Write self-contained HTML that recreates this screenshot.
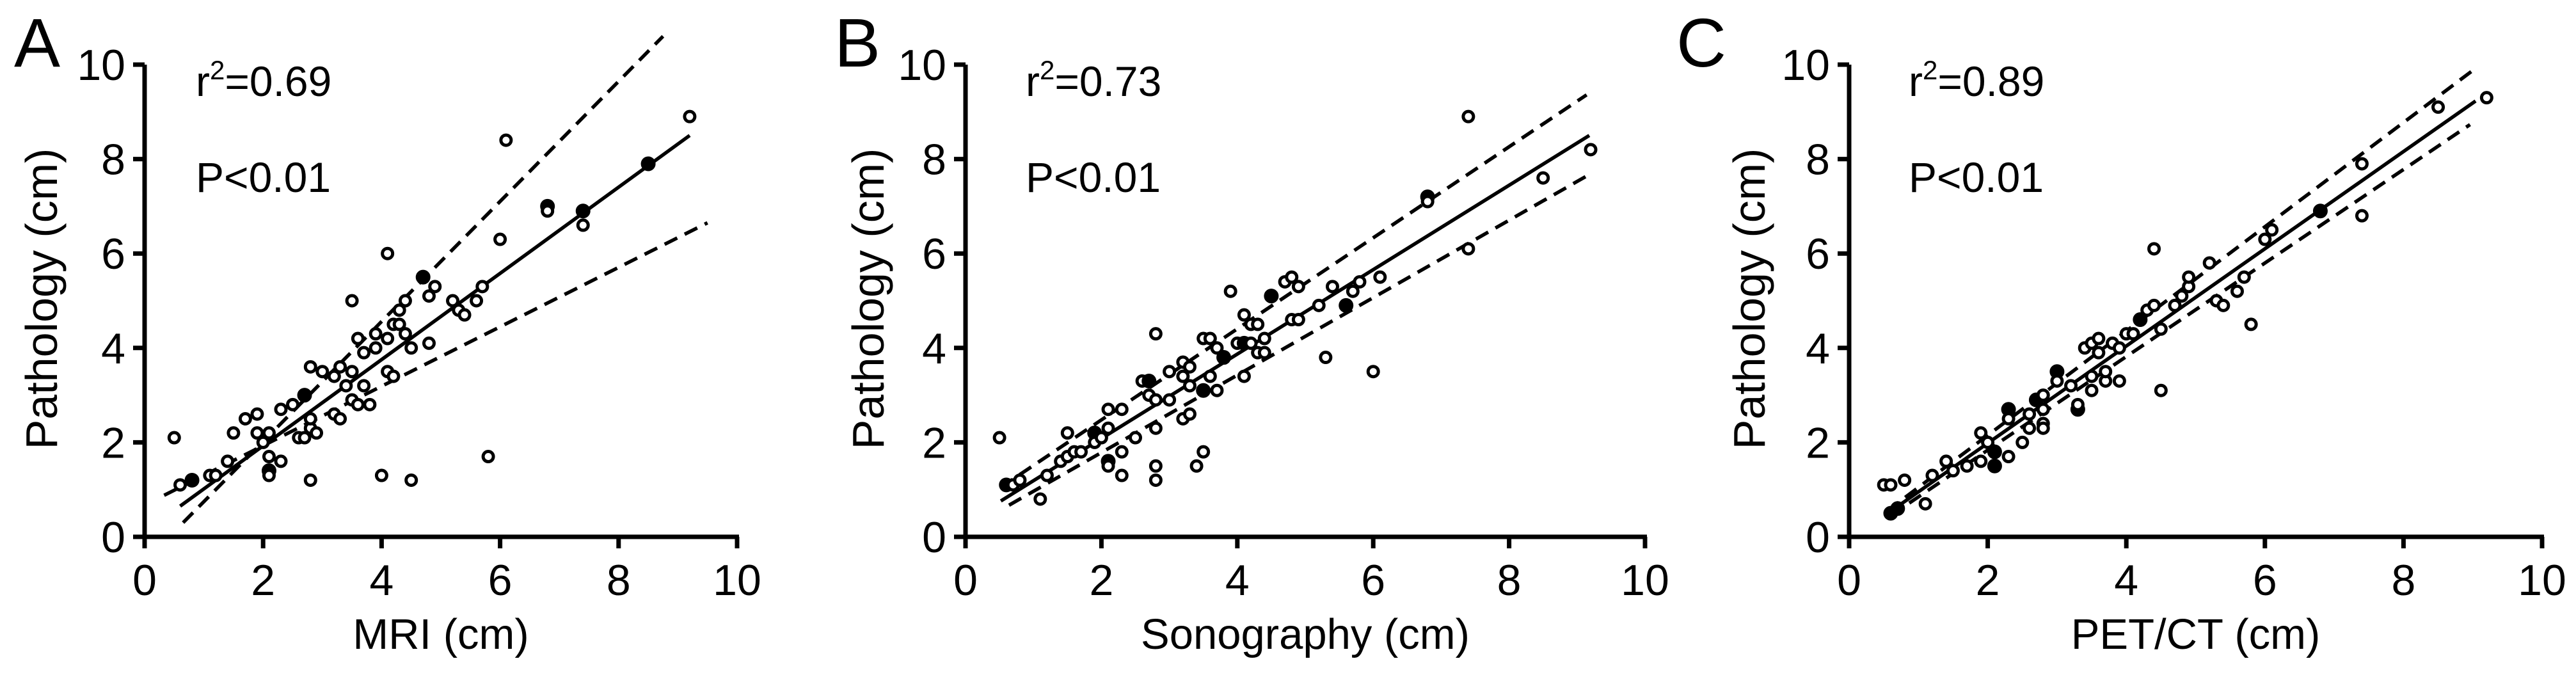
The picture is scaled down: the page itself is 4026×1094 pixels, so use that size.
<!DOCTYPE html>
<html><head><meta charset="utf-8"><style>
html,body{margin:0;padding:0;background:#fff}
svg{display:block;font-family:"Liberation Sans",Arial,sans-serif}
</style></head><body>
<svg id="fig" width="4026" height="1094" viewBox="0 0 4026 1094"></svg>
<script>
// Panel A (MRI)
const xA=[0.5,0.6,0.8,1.1,1.2,1.4,1.5,1.7,1.9,1.9,2.0,2.1,2.1,2.1,2.1,2.3,2.3,2.5,2.6,2.7,2.7,2.8,2.8,2.8,2.8,2.9,3.0,3.2,3.2,3.3,3.3,3.4,3.5,3.5,3.5,3.6,3.6,3.7,3.7,3.8,3.9,3.9,4.0,4.1,4.1,4.1,4.2,4.2,4.3,4.3,4.4,4.4,4.5,4.5,4.7,4.8,4.8,4.9,5.2,5.3,5.4,5.6,5.7,5.8,6.0,6.1,6.8,6.8,7.4,7.4,8.5,9.2];
const yA=[2.1,1.1,1.2,1.3,1.3,1.6,2.2,2.5,2.6,2.2,2.0,2.2,1.7,1.4,1.3,1.6,2.7,2.8,2.1,2.1,3.0,2.3,2.5,3.6,1.2,2.2,3.5,2.6,3.4,2.5,3.6,3.2,3.5,2.9,5.0,2.8,4.2,3.2,3.9,2.8,4.3,4.0,1.3,6.0,4.2,3.5,4.5,3.4,4.5,4.8,4.3,5.0,4.0,1.2,5.5,5.1,4.1,5.3,5.0,4.8,4.7,5.0,5.3,1.7,6.3,8.4,7.0,6.9,6.9,6.6,7.9,8.9];
const fA=[0,0,1,0,0,0,0,0,0,0,0,0,0,1,0,0,0,0,0,0,1,0,0,0,0,0,0,0,0,0,0,0,0,0,0,0,0,0,0,0,0,0,0,0,0,0,0,0,0,0,0,0,0,0,1,0,0,0,0,0,0,0,0,0,0,0,1,0,1,0,1,0];
const fitA=[[0.6,0.65],[9.2,8.5]];
const upA=[[0.65,0.3],[8.75,10.6]];
const loA=[[0.33,0.88],[9.5,6.65]];
// Panel B (Sonography)
const xB=[0.5,0.6,0.7,0.8,1.1,1.2,1.4,1.5,1.5,1.6,1.7,1.9,1.9,2.0,2.1,2.1,2.1,2.1,2.3,2.3,2.3,2.5,2.6,2.7,2.7,2.8,2.8,2.8,2.8,2.8,3.0,3.0,3.2,3.2,3.2,3.3,3.3,3.3,3.4,3.5,3.5,3.5,3.6,3.6,3.7,3.7,3.8,3.9,4.0,4.1,4.1,4.1,4.2,4.2,4.3,4.3,4.4,4.4,4.5,4.7,4.8,4.8,4.9,4.9,5.2,5.3,5.4,5.6,5.7,5.8,6.0,6.1,6.8,6.8,7.4,7.4,8.5,9.2];
const yB=[2.1,1.1,1.1,1.2,0.8,1.3,1.6,1.7,2.2,1.8,1.8,2.2,2.0,2.1,2.3,2.7,1.6,1.5,2.7,1.8,1.3,2.1,3.3,3.0,3.3,4.3,2.3,1.5,1.2,2.9,3.5,2.9,3.7,2.5,3.4,3.6,2.6,3.2,1.5,1.8,3.1,4.2,4.2,3.4,4.0,3.1,3.8,5.2,4.1,4.7,3.4,4.1,4.1,4.5,4.5,3.9,3.9,4.2,5.1,5.4,5.5,4.6,5.3,4.6,4.9,3.8,5.3,4.9,5.2,5.4,3.5,5.5,7.2,7.1,8.9,6.1,7.6,8.2];
const fB=[0,1,0,0,0,0,0,0,0,0,0,1,0,0,0,0,1,0,0,0,0,0,0,0,1,0,0,0,0,0,0,0,0,0,0,0,0,0,0,0,1,0,0,0,0,0,1,0,0,0,0,1,0,0,0,0,0,0,1,0,0,0,0,0,0,0,0,1,0,0,0,0,1,0,0,0,0,0];
const fitB=[[0.52,0.76],[9.18,8.5]];
const upB=[[0.52,1.05],[9.14,9.36]];
const loB=[[0.64,0.67],[9.14,7.64]];
// Panel C (PET/CT)
const xC=[0.5,0.6,0.6,0.7,0.8,1.1,1.2,1.4,1.5,1.7,1.9,1.9,2.0,2.1,2.1,2.3,2.3,2.3,2.5,2.6,2.6,2.7,2.8,2.8,2.8,2.8,3.0,3.0,3.2,3.3,3.3,3.4,3.5,3.5,3.5,3.6,3.6,3.7,3.7,3.8,3.9,3.9,4.0,4.1,4.2,4.3,4.4,4.4,4.5,4.5,4.7,4.8,4.9,4.9,5.2,5.3,5.4,5.6,5.7,5.8,6.0,6.1,6.8,7.4,7.4,8.5,9.2];
const yC=[1.1,1.1,0.5,0.6,1.2,0.7,1.3,1.6,1.4,1.5,2.2,1.6,2.0,1.8,1.5,1.7,2.7,2.5,2.0,2.3,2.6,2.9,2.4,2.7,3.0,2.3,3.5,3.3,3.2,2.7,2.8,4.0,3.1,3.4,4.1,4.2,3.9,3.3,3.5,4.1,3.3,4.0,4.3,4.3,4.6,4.8,4.9,6.1,4.4,3.1,4.9,5.1,5.3,5.5,5.8,5.0,4.9,5.2,5.5,4.5,6.3,6.5,6.9,7.9,6.8,9.1,9.3];
const fC=[0,0,1,1,0,0,0,0,0,0,0,0,0,1,1,0,1,0,0,0,0,1,0,0,0,0,1,0,0,1,0,0,0,0,0,0,0,0,0,0,0,0,0,0,1,0,0,0,0,0,0,0,0,0,0,0,0,0,0,0,0,0,1,0,0,0,0];
const fitC=[[0.55,0.49],[9.04,9.23]];
const upC=[[0.55,0.55],[9.02,9.9]];
const loC=[[0.6,0.45],[8.96,8.73]];
const ticks=[0,2,4,6,8,10];
const letters=["A","B","C"];
const xTitles=["MRI (cm)","Sonography (cm)","PET/CT  (cm)"];
const r2s=["0.69","0.73","0.89"];

const NS="http://www.w3.org/2000/svg";
const svg=document.getElementById('fig');
function mk(tag,attrs,parent){const e=document.createElementNS(NS,tag);for(const k in attrs)e.setAttribute(k,attrs[k]);(parent||svg).appendChild(e);return e;}

const panels=[
 {id:'a',x0:226,x1:1152,xs:xA,ys:yA,fs:fA,fit:fitA,up:upA,lo:loA,ytx:64,let:22,r2x:306},
 {id:'b',x0:1509,x1:2571,xs:xB,ys:yB,fs:fB,fit:fitB,up:upB,lo:loB,ytx:1356,let:1304,r2x:1603},
 {id:'c',x0:2890,x1:3973,xs:xC,ys:yC,fs:fC,fit:fitC,up:upC,lo:loC,ytx:2733,let:2620,r2x:2983}
];
const Y0=839,Y10=101;
panels.forEach((p,i)=>{
 const sx=v=>p.x0+(p.x1-p.x0)*v/10;
 const sy=v=>Y0-(Y0-Y10)*v/10;
 const g=mk('g',{});
 
 
 const ya=mk('line',{x1:p.x0,y1:Y10,x2:p.x0,y2:Y0+3,stroke:'#000','stroke-width':7},g);
 
 const xa=mk('line',{x1:p.x0-3,y1:Y0,x2:p.x1+3,y2:Y0,stroke:'#000','stroke-width':7},g);
 
 ticks.forEach(t=>{
  mk('line',{x1:p.x0-18,y1:sy(t),x2:p.x0,y2:sy(t),stroke:'#000','stroke-width':7},g);
  mk('line',{x1:sx(t),y1:Y0,x2:sx(t),y2:Y0+18,stroke:'#000','stroke-width':7},g);
  const yl=mk('text',{x:p.x0-30,y:sy(t)+24,'text-anchor':'end','font-size':68},g);
  yl.textContent=t;
  
  const xl=mk('text',{x:sx(t),y:930,'text-anchor':'middle','font-size':68},g);
  xl.textContent=t;
  
 });
 const ln=(seg,dash,name)=>{const l=mk('line',{x1:sx(seg[0][0]),y1:sy(seg[0][1]),x2:sx(seg[1][0]),y2:sy(seg[1][1]),stroke:'#000','stroke-width':5.5,'stroke-dasharray':dash||'none'},g);
  };
 ln(p.fit,null,'regression-line');
 ln(p.up,'22 13','upper-confidence-band');
 ln(p.lo,'22 13','lower-confidence-band');
 p.xs.forEach((x,k)=>{
  const c=mk('circle',{cx:sx(x),cy:sy(p.ys[k]),r:p.fs[k]?9:8,fill:p.fs[k]?'#000':'#fff',stroke:'#000','stroke-width':5},g);
  
 });
 const L=mk('text',{x:p.let,y:104,'font-size':108},g);L.textContent=letters[i];
 
 const r=mk('text',{x:p.r2x,y:150,'font-size':66},g);
 r.innerHTML='r<tspan dy="-26" font-size="42">2</tspan><tspan dy="26">='+r2s[i]+'</tspan>';
 
 const P=mk('text',{x:p.r2x,y:300,'font-size':66},g);P.textContent='P<0.01';
 
 const xt=mk('text',{x:(p.x0+p.x1)/2,y:1014,'text-anchor':'middle','font-size':67},g);xt.textContent=xTitles[i];
 
 const yt=mk('text',{x:0,y:0,'text-anchor':'middle','font-size':70,transform:'translate('+(p.ytx+25)+',467) rotate(-90)'},g);yt.textContent='Pathology (cm)';
 
});
</script>
</body></html>
